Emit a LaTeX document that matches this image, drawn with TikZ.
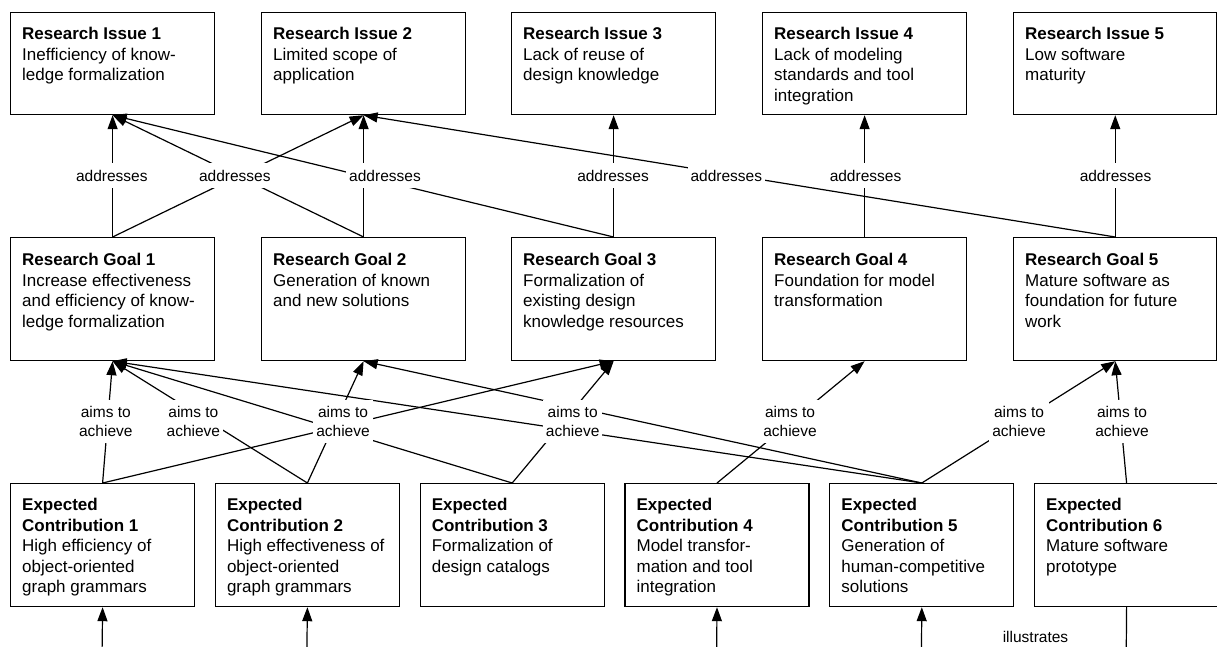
\documentclass[tikz,border=0pt]{standalone}
\usepackage{fontspec}
\setmainfont{Liberation Sans}
\usetikzlibrary{arrows.meta}
\tikzset{
  boxw/.style={draw, line width=1.2pt, inner sep=0pt, anchor=north west, minimum width=204pt},
  ribox/.style={boxw, minimum height=102pt},
  rgbox/.style={boxw, minimum height=123pt},
  ecbox/.style={draw, line width=1.2pt, inner sep=0pt, anchor=north west, minimum width=184pt, minimum height=123pt},
  txt/.style={anchor=north west, inner sep=0pt, align=left, font=\fontsize{17pt}{20.5pt}\selectfont},
  lab/.style={fill=white, inner xsep=3pt, inner ysep=6.6pt, align=center, font=\fontsize{15.5pt}{18.4pt}\selectfont},
  conn/.style={line width=1.2pt, -{Triangle[length=14pt,width=10pt]}},
  plain/.style={line width=1.2pt},
}
\begin{document}
\begin{tikzpicture}[x=1pt,y=-1pt]
\useasboundingbox (0,0) rectangle (1217,646);
\clip (0,0) rectangle (1217,646);

% Research issues
\node[ribox] (ri1) at (10,12) {};
\node[ribox] (ri2) at (261,12) {};
\node[ribox] (ri3) at (511,12) {};
\node[ribox] (ri4) at (762,12) {};
\node[ribox, minimum width=203.3pt] (ri5) at (1013,12) {};
\node[txt] (ri1t) at ([xshift=12pt,yshift=-15pt]ri1.north west) {\textbf{Research Issue 1}\\Inefficiency of know-\\ledge formalization};
\node[txt] (ri2t) at ([xshift=12pt,yshift=-15pt]ri2.north west) {\textbf{Research Issue 2}\\Limited scope of\\application};
\node[txt] (ri3t) at ([xshift=12pt,yshift=-15pt]ri3.north west) {\textbf{Research Issue 3}\\Lack of reuse of\\design knowledge};
\node[txt] (ri4t) at ([xshift=12pt,yshift=-15pt]ri4.north west) {\textbf{Research Issue 4}\\Lack of modeling\\standards and tool\\integration};
\node[txt] (ri5t) at ([xshift=12pt,yshift=-15pt]ri5.north west) {\textbf{Research Issue 5}\\Low software\\maturity};

% Research goals
\node[rgbox] (rg1) at (10,237) {};
\node[rgbox] (rg2) at (261,237) {};
\node[rgbox] (rg3) at (511,237) {};
\node[rgbox] (rg4) at (762,237) {};
\node[rgbox, minimum width=203.3pt] (rg5) at (1013,237) {};
\node[txt] (rg1t) at ([xshift=12pt,yshift=-16pt]rg1.north west) {\textbf{Research Goal 1}\\Increase effectiveness\\and efficiency of know-\\ledge formalization};
\node[txt] (rg2t) at ([xshift=12pt,yshift=-16pt]rg2.north west) {\textbf{Research Goal 2}\\Generation of known\\and new solutions};
\node[txt] (rg3t) at ([xshift=12pt,yshift=-16pt]rg3.north west) {\textbf{Research Goal 3}\\Formalization of\\existing design\\knowledge resources};
\node[txt] (rg4t) at ([xshift=12pt,yshift=-16pt]rg4.north west) {\textbf{Research Goal 4}\\Foundation for model\\transformation};
\node[txt] (rg5t) at ([xshift=12pt,yshift=-16pt]rg5.north west) {\textbf{Research Goal 5}\\Mature software as\\foundation for future\\work};

% Expected contributions
\node[ecbox] (ec1) at (10,483) {};
\node[ecbox] (ec2) at (214.8,483) {};
\node[ecbox] (ec3) at (419.6,483) {};
\node[ecbox] (ec4) at (624.4,483) {};
\node[ecbox] (ec5) at (829.2,483) {};
\node[ecbox] (ec6) at (1034,483) {};
\node[txt] (ec1t) at ([xshift=12pt,yshift=-15pt]ec1.north west) {\textbf{Expected}\\\textbf{Contribution 1}\\High efficiency of\\object-oriented\\graph grammars};
\node[txt] (ec2t) at ([xshift=12pt,yshift=-15pt]ec2.north west) {\textbf{Expected}\\\textbf{Contribution 2}\\High effectiveness of\\object-oriented\\graph grammars};
\node[txt] (ec3t) at ([xshift=12pt,yshift=-15pt]ec3.north west) {\textbf{Expected}\\\textbf{Contribution 3}\\Formalization of\\design catalogs};
\node[txt] (ec4t) at ([xshift=12pt,yshift=-15pt]ec4.north west) {\textbf{Expected}\\\textbf{Contribution 4}\\Model transfor-\\mation and tool\\integration};
\node[txt] (ec5t) at ([xshift=12pt,yshift=-15pt]ec5.north west) {\textbf{Expected}\\\textbf{Contribution 5}\\Generation of\\human-competitive\\solutions};
\node[txt] (ec6t) at ([xshift=12pt,yshift=-15pt]ec6.north west) {\textbf{Expected}\\\textbf{Contribution 6}\\Mature software\\prototype};

% free ends below the crop
\coordinate (b1) at (101.75,680);
\coordinate (b2) at (306.5,680);
\coordinate (b4) at (716.4,680);
\coordinate (b5) at (921.2,680);
\coordinate (b6) at (1126,680);

% addresses connectors
\draw[conn] (rg1.north) -- (ri1.south);
\draw[conn] (rg1.north) -- (ri2.south);
\draw[conn] (rg2.north) -- (ri1.south);
\draw[conn] (rg2.north) -- (ri2.south);
\draw[conn] (rg3.north) -- (ri1.south);
\draw[conn] (rg3.north) -- (ri3.south);
\draw[conn] (rg4.north) -- (ri4.south);
\draw[conn] (rg5.north) -- (ri2.south);
\draw[conn] (rg5.north) -- (ri5.south);

% aims to achieve connectors
\draw[conn] (ec1.north) -- (rg1.south);
\draw[conn] (ec1.north) -- (rg3.south);
\draw[conn] (ec2.north) -- (rg1.south);
\draw[conn] (ec2.north) -- (rg2.south);
\draw[conn] (ec3.north) -- (rg1.south);
\draw[conn] (ec3.north) -- (rg3.south);
\draw[conn] (ec4.north) -- (rg4.south);
\draw[conn] (ec5.north) -- (rg1.south);
\draw[conn] (ec5.north) -- (rg2.south);
\draw[conn] (ec5.north) -- (rg5.south);
\draw[conn] (ec6.north) -- (rg5.south);

% bottom connectors
\draw[conn] (b1) -- (ec1.south);
\draw[conn] (b2) -- (ec2.south);
\draw[conn] (b4) -- (ec4.south);
\draw[conn] (b5) -- (ec5.south);
\draw[plain] (ec6.south) -- (b6);

% labels
\node[lab] (a1) at (111.8,175.5) {addresses};
\node[lab] (a2) at (234.8,175.5) {addresses};
\node[lab] (a3) at (385,175.5) {addresses};
\node[lab] (a4) at (613,175.5) {addresses};
\node[lab] (a5) at (726.3,175.5) {addresses};
\node[lab] (a6) at (865.5,175.5) {addresses};
\node[lab] (a7) at (1115.5,175.5) {addresses};

\node[lab] (m1) at (105.8,421.5) {aims to\\achieve};
\node[lab] (m2) at (193.4,421.5) {aims to\\achieve};
\node[lab] (m3) at (343,421.5) {aims to\\achieve};
\node[lab] (m4) at (572.7,421.5) {aims to\\achieve};
\node[lab] (m5) at (790,421.5) {aims to\\achieve};
\node[lab] (m6) at (1019,421.5) {aims to\\achieve};
\node[lab] (m7) at (1122,421.5) {aims to\\achieve};

\node[lab, fill=none] (il) at (1035.5,637) {illustrates};
\end{tikzpicture}
\end{document}
